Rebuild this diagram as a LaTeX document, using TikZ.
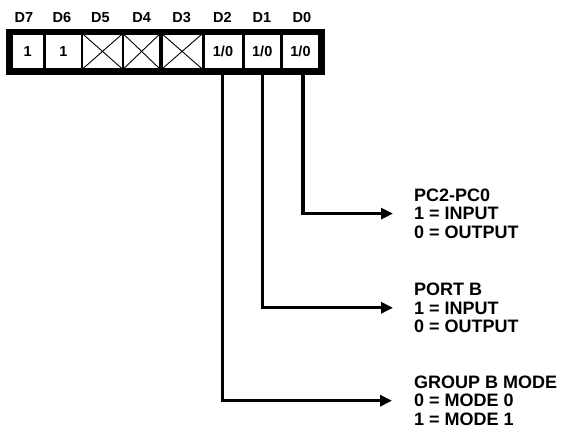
\documentclass[tikz,border=0pt]{standalone}
\usepackage{fontspec}
\setmainfont{Liberation Sans}
\usetikzlibrary{arrows.meta}
\begin{document}
\begin{tikzpicture}[x=1pt,y=-1pt,
  cell/.style={fill=white,inner sep=0pt,minimum height=33.8pt,font=\fontsize{14.5}{16}\selectfont\bfseries},
  bitlabel/.style={inner sep=0pt,font=\fontsize{14.5}{16}\selectfont\bfseries},
  desc/.style={inner sep=0pt,align=left,anchor=base west,font=\fontsize{18}{18.5}\selectfont\bfseries},
  conn/.style={line width=3.1pt,-{Triangle[length=12pt,width=11pt]}},
  cross/.style={line width=0.9pt}]
\useasboundingbox (0,0) rectangle (563,429);
% frame
\fill[black] (6,29) rectangle (325,75);
% cells
\node[cell,minimum width=30pt]   (c7) at (27.7,51.4) {1};
\node[cell,minimum width=34.7pt] (c6) at (63.35,51.4) {1};
\node[cell,minimum width=38.4pt] (c5) at (102.5,51.4) {};
\node[cell,minimum width=35.3pt] (c4) at (141.65,51.4) {};
\node[cell,minimum width=38.8pt] (c3) at (182.1,51.4) {};
\node[cell,minimum width=37pt]   (c2) at (223,51.4) {1/0};
\node[cell,minimum width=35.5pt] (c1) at (262.25,51.4) {1/0};
\node[cell,minimum width=35.6pt] (c0) at (300.5,51.4) {1/0};
% crosses
\foreach \c in {c5,c4,c3}{
  \draw[cross] (\c.north west) -- (\c.south east);
  \draw[cross] (\c.south west) -- (\c.north east);
}
% bit labels
\node[bitlabel] (d7) at (24,17.7) {D7};
\node[bitlabel] (d6) at (62,17.7) {D6};
\node[bitlabel] (d5) at (100.5,17.7) {D5};
\node[bitlabel] (d4) at (141.7,17.7) {D4};
\node[bitlabel] (d3) at (181.7,17.7) {D3};
\node[bitlabel] (d2) at (222.5,17.7) {D2};
\node[bitlabel] (d1) at (262,17.7) {D1};
\node[bitlabel] (d0) at (302,17.7) {D0};
% descriptions (anchor = baseline of last line)
\node[desc] (t0) at (414,238.3) {PC2-PC0\\1 = INPUT\\0 = OUTPUT};
\node[desc] (t1) at (414,332.5) {PORT B\\1 = INPUT\\0 = OUTPUT};
\node[desc] (t2) at (414,425.4) {GROUP B MODE\\0 = MODE 0\\1 = MODE 1};
% connectors
\draw[conn] ([xshift=2.5pt]c0.south) |- ([xshift=-21pt,yshift=24.7pt]t0.base west);
\draw[conn] ([xshift=0pt]c1.south) |- ([xshift=-21pt,yshift=24.7pt]t1.base west);
\draw[conn] ([xshift=-0.7pt]c2.south) |- ([xshift=-22pt,yshift=24.7pt]t2.base west);
\end{tikzpicture}
\end{document}
